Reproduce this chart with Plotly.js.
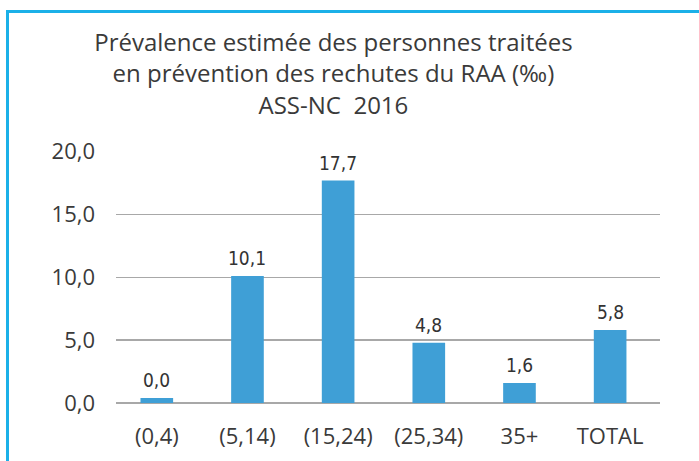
<!DOCTYPE html>
<html>
<head>
<meta charset="utf-8">
<script src="https://cdn.plot.ly/plotly-3.0.1.min.js"></script>
<style>
  html, body { margin: 0; padding: 0; background: #fff; }
  #wrap { position: relative; width: 699px; height: 461px; overflow: hidden; }
  #chart { position: absolute; left: 0; top: 0; width: 699px; height: 461px; }
  #frame { position: absolute; left: 6px; top: 10px; width: 720px; height: 480px;
           border-left: 3px solid #1BB0E8; border-top: 3px solid #1BB0E8; pointer-events: none; }
</style>
</head>
<body>
<div id="wrap">
  <div id="chart"></div>
  <div id="frame"></div>
</div>
<script>
const categories = ["(0,4)", "(5,14)", "(15,24)", "(25,34)", "35+", "TOTAL"];
const barValues = [0.4, 10.1, 17.7, 4.8, 1.6, 5.8];
const labelText = ["0,0", "10,1", "17,7", "4,8", "1,6", "5,8"];
const yTicks = [0, 5, 10, 15, 20];
const yTickText = ["0,0", "5,0", "10,0", "15,0", "20,0"];
const titleLines = [
  "Prévalence estimée des personnes traitées",
  "en prévention des rechutes du RAA (‰)",
  "ASS-NC  2016"
];

const trace = {
  type: "bar",
  x: categories,
  y: barValues,
  marker: { color: "#3F9FD6" },
  hoverinfo: "none"
};

const annotations = categories.map((c, i) => ({
  x: c, y: barValues[i], xref: "x", yref: "y",
  text: labelText[i], showarrow: false,
  yanchor: "bottom", yshift: 5,
  font: { family: "Liberation Sans Narrow, DejaVu Sans Condensed, Arial Narrow, sans-serif", size: 19, color: "#333333" }
}));

const layout = {
  width: 699, height: 461,
  margin: { l: 116, r: 39, t: 151, b: 58 },
  paper_bgcolor: "#ffffff", plot_bgcolor: "#ffffff",
  showlegend: false,
  bargap: 0.64,
  separators: ", ",
  title: {
    text: titleLines.join("<br>"),
    x: 0.477, xanchor: "center",
    y: 0.889, yanchor: "top",
    font: { family: "Open Sans, sans-serif", size: 24, color: "#3a3a3a" }
  },
  xaxis: {
    type: "category",
    range: [-0.45, 5.55],
    showgrid: false, zeroline: false, showline: false,
    ticks: "", ticklabelstandoff: 18,
    tickfont: { family: "Open Sans, sans-serif", size: 22, color: "#3a3a3a" }
  },
  yaxis: {
    range: [0, 20.05],
    tickvals: yTicks, ticktext: yTickText,
    showgrid: true, gridcolor: "#A8A8A8", gridwidth: 1.5,
    zeroline: true, zerolinecolor: "#A8A8A8", zerolinewidth: 1.5,
    showline: false, ticks: "", ticklabelstandoff: 20,
    tickfont: { family: "Open Sans, sans-serif", size: 22, color: "#3a3a3a" }
  },
  annotations: annotations
};

Plotly.newPlot("chart", [trace], layout, { displayModeBar: false, staticPlot: true });
</script>
</body>
</html>
